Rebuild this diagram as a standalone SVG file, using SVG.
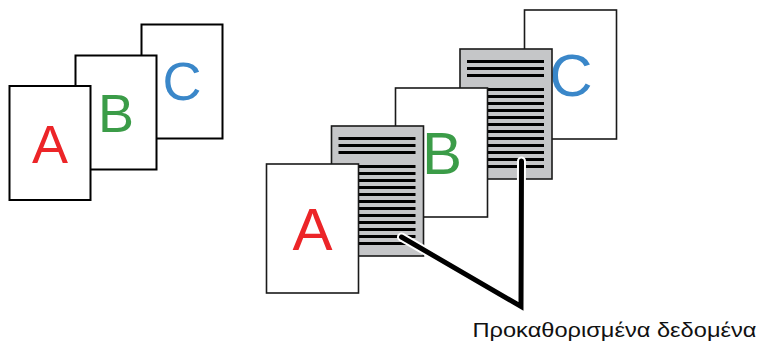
<svg xmlns="http://www.w3.org/2000/svg" xmlns:xlink="http://www.w3.org/1999/xlink" width="760" height="342" viewBox="0 0 760 342">
<defs>
<style>
.pg{fill:#ffffff;stroke:#000000;stroke-width:2}
.pr{fill:#ffffff;stroke:#1a1a1a;stroke-width:1.6}
.gr{fill:#c5c6c8;stroke:#1a1a1a;stroke-width:1.6}
.ln{stroke:#000000;stroke-width:3}
.lt{font-family:"Liberation Sans",Arial,Helvetica,sans-serif;text-anchor:middle}
.a{fill:#ec2528}
.b{fill:#3b9c48}
.c{fill:#3a87c9}
.lbl{font-family:"Liberation Sans",Arial,Helvetica,sans-serif;font-size:20px;fill:#111111}
</style>
<g id="lines">
<line class="ln" x1="7" y1="12.5" x2="84" y2="12.5"/>
<line class="ln" x1="7" y1="19.5" x2="84" y2="19.5"/>
<line class="ln" x1="7" y1="26.5" x2="84" y2="26.5"/>
<line class="ln" x1="7" y1="40.5" x2="84" y2="40.5"/>
<line class="ln" x1="7" y1="47.5" x2="84" y2="47.5"/>
<line class="ln" x1="7" y1="54.5" x2="84" y2="54.5"/>
<line class="ln" x1="7" y1="61.5" x2="84" y2="61.5"/>
<line class="ln" x1="7" y1="68.5" x2="84" y2="68.5"/>
<line class="ln" x1="7" y1="75.5" x2="84" y2="75.5"/>
<line class="ln" x1="7" y1="82.5" x2="84" y2="82.5"/>
<line class="ln" x1="7" y1="89.5" x2="84" y2="89.5"/>
<line class="ln" x1="7" y1="96.5" x2="84" y2="96.5"/>
<line class="ln" x1="7" y1="103.5" x2="84" y2="103.5"/>
<line class="ln" x1="7" y1="110.5" x2="84" y2="110.5"/>
<line class="ln" x1="7" y1="117.5" x2="84" y2="117.5"/>
</g>
</defs>
<rect width="760" height="342" fill="#ffffff"/>

<!-- Left group -->
<g id="left-C">
<rect class="pg" x="141.5" y="24.5" width="81" height="114"/>
<text class="lt c" x="182" y="100" font-size="54">C</text>
</g>
<g id="left-B">
<rect class="pg" x="75.5" y="55.5" width="81" height="114"/>
<text class="lt b" x="116" y="131.5" font-size="54">B</text>
</g>
<g id="left-A">
<rect class="pg" x="9.5" y="86" width="81" height="114"/>
<text class="lt a" x="50" y="162.5" font-size="54">A</text>
</g>

<!-- Right group -->
<g id="right-C">
<rect class="pr" x="524.5" y="10" width="92" height="129"/>
<text class="lt c" x="571" y="95.5" font-size="60">C</text>
</g>
<g id="data-2">
<rect class="gr" x="460" y="49" width="92" height="130"/>
<use xlink:href="#lines" transform="translate(460,49)"/>
</g>
<g id="right-B">
<rect class="pr" x="395.5" y="88" width="92" height="129"/>
<text class="lt b" x="442" y="174" font-size="60">B</text>
</g>
<g id="data-1">
<rect class="gr" x="331.5" y="126" width="92" height="130"/>
<use xlink:href="#lines" transform="translate(331.5,126)"/>
</g>
<g id="right-A">
<rect class="pr" x="266.5" y="164" width="92" height="129"/>
<text class="lt a" x="312.5" y="250" font-size="60">A</text>
</g>

<g id="connectors">
<path d="M401.5 237 L521 306.5 L521.5 161" fill="none" stroke="#ffffff" stroke-width="9" stroke-linecap="round" stroke-linejoin="miter"/>
<path d="M401.5 237 L521 306.5 L521.5 161" fill="none" stroke="#000000" stroke-width="5" stroke-linecap="round" stroke-linejoin="miter"/>
</g>

<g id="label">
<text class="lbl" x="472.5" y="337" textLength="284" lengthAdjust="spacingAndGlyphs">Προκαθορισμένα δεδομένα</text>
</g>
</svg>
